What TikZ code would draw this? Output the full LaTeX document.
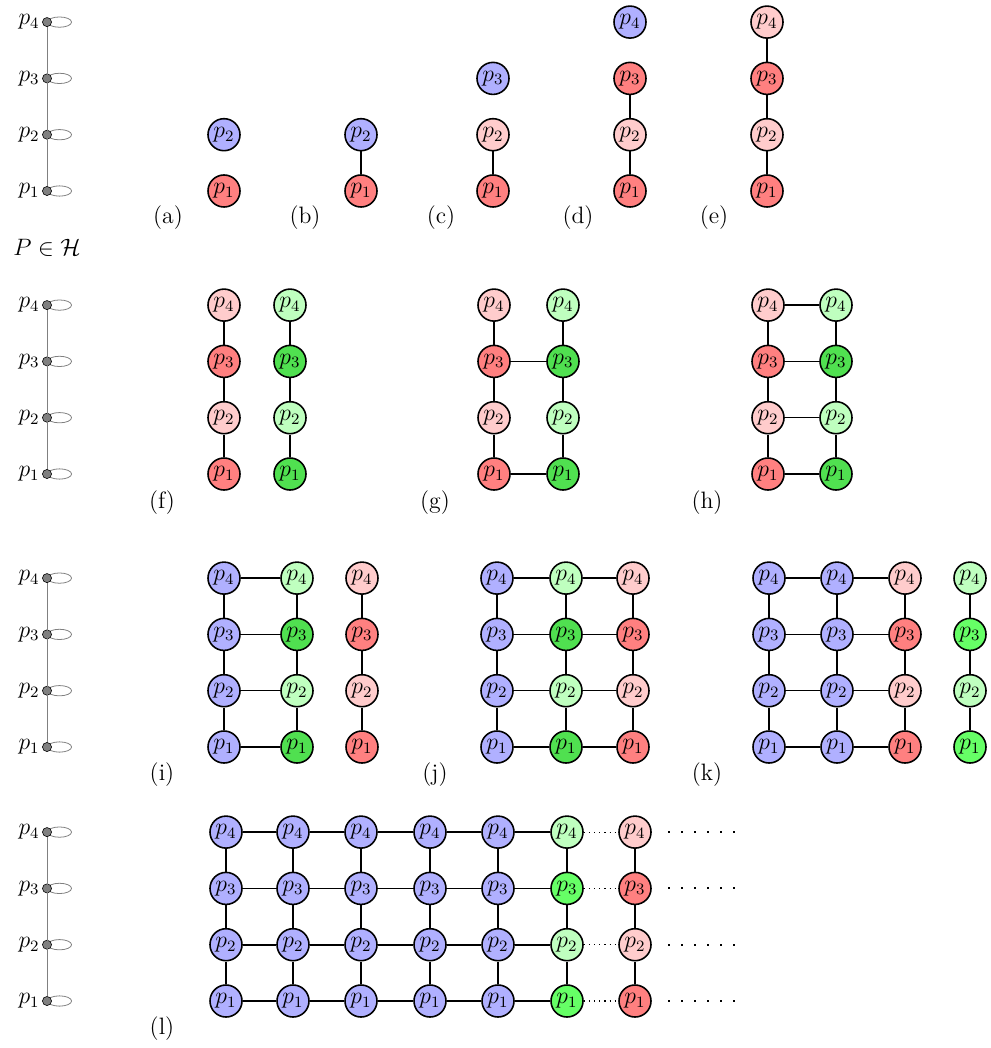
\documentclass[tikz,border=0pt,12pt]{standalone}
\definecolor{cB}{RGB}{176,176,255}
\definecolor{cR}{RGB}{255,128,128}
\definecolor{cLR}{RGB}{255,204,204}
\definecolor{cG}{RGB}{80,224,80}
\definecolor{cLG}{RGB}{191,255,191}
\definecolor{cGtwo}{RGB}{102,255,102}
\newcommand\colfull[5]{%
  \node[#4] (#1-1) at (#2,#3) {$p_1$};
  \node[#5] (#1-2) at (#2,{#3-56.3}) {$p_2$};
  \node[#4] (#1-3) at (#2,{#3-112.6}) {$p_3$};
  \node[#5] (#1-4) at (#2,{#3-168.9}) {$p_4$};}
\newcommand\vall[1]{\draw[edge] (#1-1)--(#1-2)--(#1-3)--(#1-4);}
\newcommand\hall[2]{\foreach \i in {1,...,4} \draw[edge] (#1-\i)--(#2-\i);}
\newcommand\leftP[2]{%
  \foreach \i in {1,...,4} {
    \draw[ploop] (59.5,{#2-56.3*(\i-1)}) ellipse [x radius=6.1pt, y radius=2.6pt];
    \node[pdot] (#1-\i) at (47,{#2-56.3*(\i-1)}) {};
    \node[plbl] (#1-l\i) at (40,{#2-56.3*(\i-1)}) {$p_{\i}$};
  }
  \draw[pline] (#1-1)--(#1-4);}
\begin{document}
\begin{tikzpicture}[x=0.506pt,y=-0.506pt,
  v/.style={circle,draw=black,thick,minimum size=16.2pt,inner sep=0pt},
  nB/.style={v,fill=cB},
  nR/.style={v,fill=cR},
  nLR/.style={v,fill=cLR},
  nG/.style={v,fill=cG},
  nLG/.style={v,fill=cLG},
  nGtwo/.style={v,fill=cGtwo},
  edge/.style={thick},
  dotedge/.style={dotted,semithick},
  trail/.style={line width=1.1pt,dash pattern=on 1.1pt off 5.5pt},
  pdot/.style={circle,draw=black,fill=gray,inner sep=0pt,minimum size=4.6pt,line width=0.3pt},
  pline/.style={gray,line width=0.5pt},
  ploop/.style={gray,line width=0.4pt},
  plbl/.style={anchor=east,inner sep=0pt},
  sublbl/.style={inner sep=0pt}]
\useasboundingbox (0,0) rectangle (990,1048);

% ---------- Row A ----------
\leftP{PA}{191}
\node (PH) at (47,248) {$P\in\mathcal{H}$};
% (a)
\node[nR] (a-1) at (224,191) {$p_1$};
\node[nB] (a-2) at (224,134.7) {$p_2$};
% (b)
\node[nR] (b-1) at (361,191) {$p_1$};
\node[nB] (b-2) at (361,134.7) {$p_2$};
\draw[edge] (b-1)--(b-2);
% (c)
\node[nR] (c-1) at (493,191) {$p_1$};
\node[nLR] (c-2) at (493,134.7) {$p_2$};
\node[nB] (c-3) at (493,78.4) {$p_3$};
\draw[edge] (c-1)--(c-2);
% (d)
\node[nR] (d-1) at (630,191) {$p_1$};
\node[nLR] (d-2) at (630,134.7) {$p_2$};
\node[nR] (d-3) at (630,78.4) {$p_3$};
\node[nB] (d-4) at (630,22.1) {$p_4$};
\draw[edge] (d-1)--(d-2)--(d-3);
% (e)
\colfull{e}{767}{191}{nR}{nLR}
\vall{e}
\node[sublbl] (la) at (168,218) {(a)};
\node[sublbl] (lb) at (305,218) {(b)};
\node[sublbl] (lc) at (441,218) {(c)};
\node[sublbl] (ld) at (578,218) {(d)};
\node[sublbl] (le) at (714,218) {(e)};

% ---------- Row B ----------
\leftP{PB}{474}
\colfull{fr}{224}{474}{nR}{nLR}
\colfull{fg}{290}{474}{nG}{nLG}
\vall{fr} \vall{fg}
\colfull{gr}{494}{474}{nR}{nLR}
\colfull{gg}{563}{474}{nG}{nLG}
\vall{gr} \vall{gg}
\draw[edge] (gr-3)--(gg-3);
\draw[edge] (gr-1)--(gg-1);
\colfull{hr}{768}{474}{nR}{nLR}
\colfull{hg}{836}{474}{nG}{nLG}
\vall{hr} \vall{hg}
\hall{hr}{hg}
\node[sublbl] (lf) at (162,503) {(f)};
\node[sublbl] (lg) at (435,503) {(g)};
\node[sublbl] (lh) at (707,503) {(h)};

% ---------- Row C ----------
\leftP{PC}{747}
\colfull{ib}{224}{747}{nB}{nB}
\colfull{ig}{297}{747}{nG}{nLG}
\colfull{ir}{362}{747}{nR}{nLR}
\vall{ib} \vall{ig} \vall{ir}
\hall{ib}{ig}
\colfull{jb}{497}{747}{nB}{nB}
\colfull{jg}{566}{747}{nG}{nLG}
\colfull{jr}{633}{747}{nR}{nLR}
\vall{jb} \vall{jg} \vall{jr}
\hall{jb}{jg} \hall{jg}{jr}
\colfull{kba}{769}{747}{nB}{nB}
\colfull{kbb}{837}{747}{nB}{nB}
\colfull{kr}{905}{747}{nR}{nLR}
\colfull{kg}{970}{747}{nGtwo}{nLG}
\vall{kba} \vall{kbb} \vall{kr} \vall{kg}
\hall{kba}{kbb} \hall{kbb}{kr}
\node[sublbl] (li) at (162,775) {(i)};
\node[sublbl] (lj) at (435,775) {(j)};
\node[sublbl] (lk) at (707,775) {(k)};

% ---------- Row D ----------
\leftP{PD}{1001}
\colfull{la}{226}{1001}{nB}{nB}
\colfull{lb}{293}{1001}{nB}{nB}
\colfull{lc}{361}{1001}{nB}{nB}
\colfull{ld}{430}{1001}{nB}{nB}
\colfull{le}{498}{1001}{nB}{nB}
\colfull{lg}{567}{1001}{nGtwo}{nLG}
\colfull{lr}{635}{1001}{nR}{nLR}
\vall{la} \vall{lb} \vall{lc} \vall{ld} \vall{le} \vall{lg} \vall{lr}
\hall{la}{lb} \hall{lb}{lc} \hall{lc}{ld} \hall{ld}{le} \hall{le}{lg}
\foreach \i in {1,...,4} \draw[dotedge] (lg-\i)--(lr-\i);
\foreach \i in {1,...,4} {
  \coordinate (tr\i a) at (668,{1001-56.3*(\i-1)});
  \coordinate (tr\i b) at (740,{1001-56.3*(\i-1)});
  \draw[trail] (tr\i a)--(tr\i b);
}
\node[sublbl] (ll) at (162,1029) {(l)};
\end{tikzpicture}
\end{document}
